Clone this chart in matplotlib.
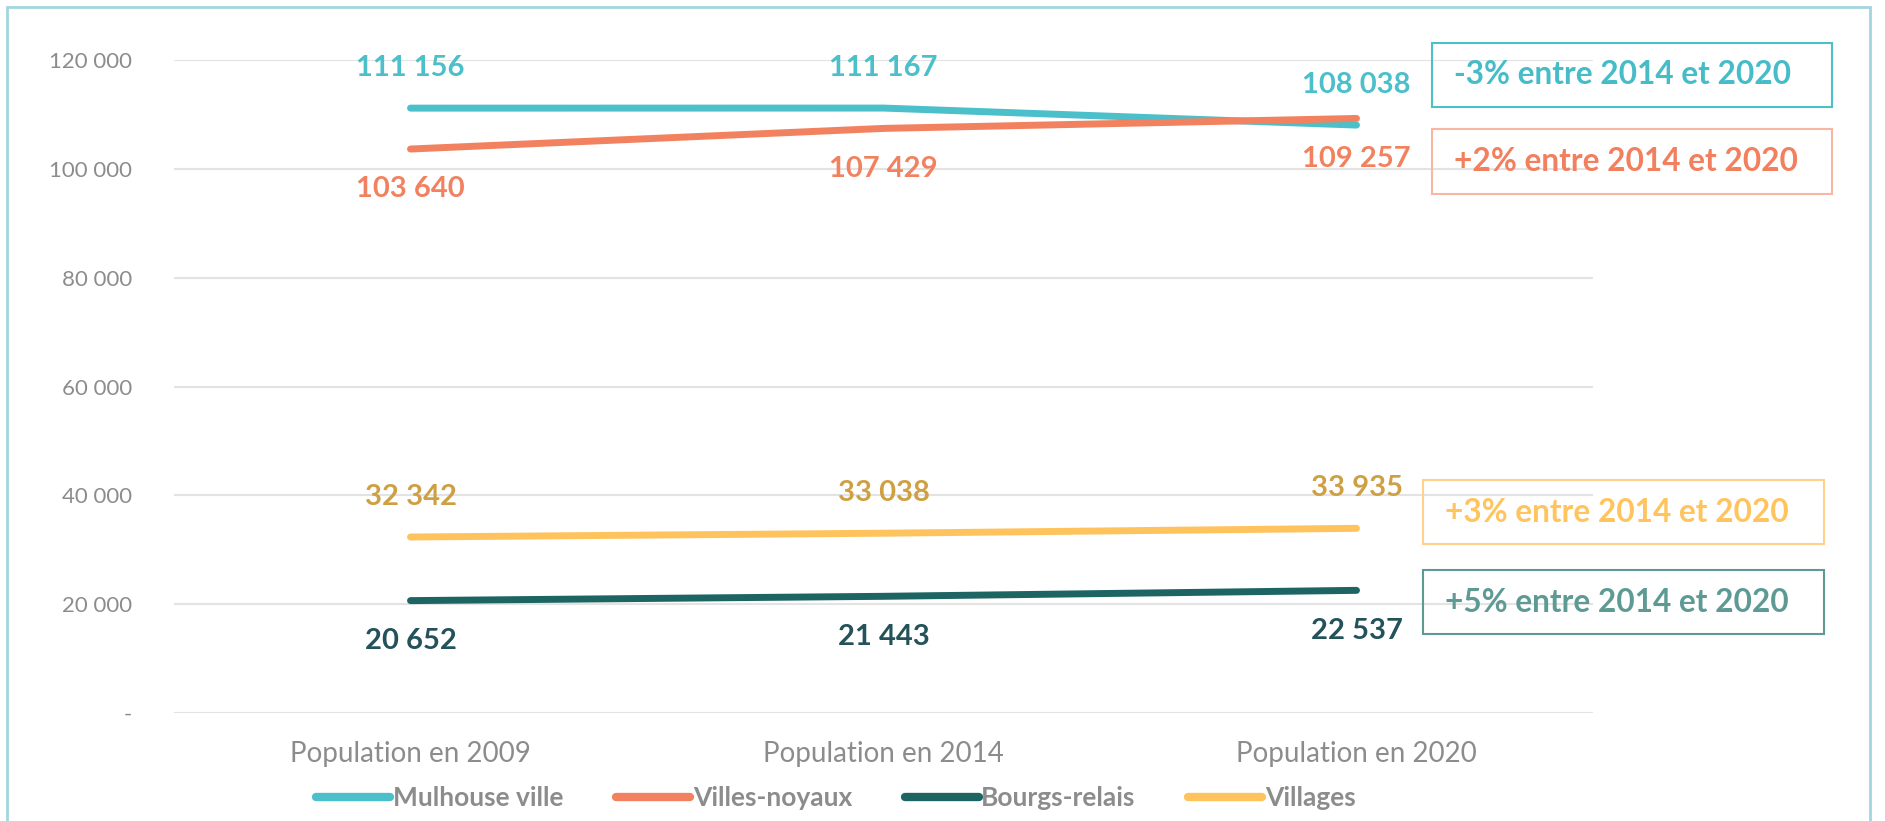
import matplotlib
matplotlib.use("Agg")
import matplotlib.pyplot as plt
from matplotlib.patches import Rectangle

plt.rcParams["font.family"] = ["Lato", "DejaVu Sans"]

categories = ["Population en 2009", "Population en 2014", "Population en 2020"]
mulhouse = [111156, 111167, 108038]
villes_noyaux = [103640, 107429, 109257]
bourgs_relais = [20652, 21443, 22537]
villages = [32342, 33038, 33935]
yticks = [0, 20000, 40000, 60000, 80000, 100000, 120000]
ytick_labels = ["-", "20 000", "40 000", "60 000", "80 000", "100 000", "120 000"]
evolutions = ["-3% entre 2014 et 2020", "+2% entre 2014 et 2020",
              "+3% entre 2014 et 2020", "+5% entre 2014 et 2020"]

def fmt(v):
    return f"{v:,}".replace(",", " ")

# name, values, line colour, label colour, label above?
series = [
    ("Mulhouse ville", mulhouse, "#4BBFCA", "#4BBFCA", True),
    ("Villes-noyaux", villes_noyaux, "#F2825F", "#F2825F", False),
    ("Bourgs-relais", bourgs_relais, "#1D6563", "#23525A", False),
    ("Villages", villages, "#FFC35E", "#CFA043", True),
]

W, H = 1885, 821
fig = plt.figure(figsize=(W / 100, H / 100), dpi=100)
ax = fig.add_axes([174 / W, 1 - 713 / H, (1593 - 174) / W, (713 - 60) / H])

x = list(range(len(categories)))
for name, vals, c, lc, above in series:
    ax.plot(x, vals, color=c, lw=5, solid_capstyle="round", label=name, zorder=3)
    for xi, v in zip(x, vals):
        ax.annotate(fmt(v), (xi, v), xytext=(0, 29 if above else -29),
                    textcoords="offset points", ha="center", va="center",
                    fontsize=21, fontweight="bold", color=lc)

ax.set_xlim(-0.5, 2.5)
ax.set_ylim(0, 120000)
ax.set_yticks(yticks)
ax.set_yticklabels(ytick_labels)
ax.set_xticks(x)
ax.set_xticklabels(categories)
ax.grid(axis="y", color="#E3E3E3", lw=1.5)
ax.set_axisbelow(True)
for s in ax.spines.values():
    s.set_visible(False)
ax.tick_params(axis="both", length=0, colors="#8C8C8C", labelsize=16)
ax.tick_params(axis="y", pad=30)
ax.tick_params(axis="x", pad=20, labelsize=20)

# evolution boxes on the right
boxes = [(1432, 43, 1832, 107, "#4BBFCA", "#45BCC8"),
         (1432, 129, 1832, 194, "#F9B7A3", "#F27F5D"),
         (1423, 480, 1824, 544, "#FFD28A", "#FFC45E"),
         (1423, 570, 1824, 634, "#5E9A94", "#5E9A94")]
for (x0, y0, x1, y1, ec, tc), txt in zip(boxes, evolutions):
    fig.add_artist(Rectangle((x0 / W, 1 - y1 / H), (x1 - x0) / W, (y1 - y0) / H,
                             fill=False, ec=ec, lw=1.5, transform=fig.transFigure))
    fig.text((x0 + 22) / W, 1 - (y0 + y1) / 2 / H, txt, ha="left", va="center",
             fontsize=22.8, fontweight="bold", color=tc)

# frame around the whole chart
fig.add_artist(Rectangle((7 / W, -0.05), (1870 - 7) / W, 1 - 7 / H + 0.05,
                         fill=False, ec="#A3D5DE", lw=2, transform=fig.transFigure))

leg = fig.legend(loc="center", bbox_to_anchor=(836 / W, 1 - 798 / H), ncol=4,
                 frameon=False, handlelength=2.8, handletextpad=0.1, columnspacing=2.0,
                 prop={"size": 19, "weight": "bold"})
for t in leg.get_texts():
    t.set_color("#8C8C8C")
for l in leg.get_lines():
    l.set_linewidth(6)

fig.savefig("out.png", dpi=100)
